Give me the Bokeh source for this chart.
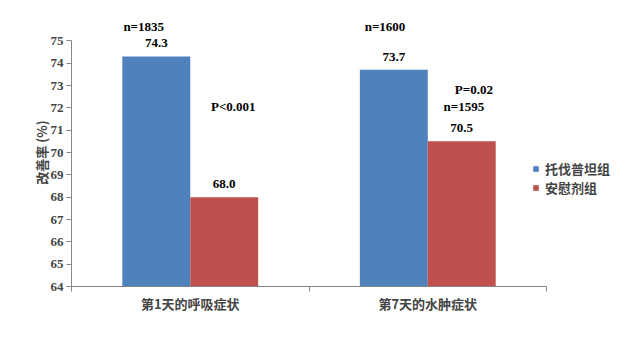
from bokeh.plotting import figure
from bokeh.models import (Range1d, FixedTicker, LinearAxis, ColumnDataSource, LabelSet,
                          Label, Legend, LegendItem)
from bokeh.embed import file_html
from bokeh.resources import INLINE

# ---- data ----
categories = ["第1天的呼吸症状", "第7天的水肿症状"]
series_names = ["托伐普坦组", "安慰剂组"]
tolvaptan = [74.3, 73.7]
placebo = [68.0, 70.5]
y_ticks = [64, 65, 66, 67, 68, 69, 70, 71, 72, 73, 74, 75]
n_tolvaptan = ["n=1835", "n=1600"]
n_placebo = ["", "n=1595"]
p_values = ["P<0.001", "P=0.02"]
y_label = "改善率 (%)"

BLUE = "#4F81BD"
RED = "#C0504D"
AXIS = "#868686"
SERIF = "Liberation Serif"
CJK = "Noto Sans CJK SC"

n_cat = len(categories)
bar_w = 0.286
centers = [i + 0.5 for i in range(n_cat)]
xb = [c - bar_w / 2 for c in centers]
xr = [c + bar_w / 2 for c in centers]

# frame extends beyond the axes (axes are bounded) so that texts and legend are not clipped
p = figure(width=623, height=356, output_backend="svg", toolbar_location=None,
           x_range=Range1d(0, n_cat * 1.162), y_range=Range1d(y_ticks[0], y_ticks[-1] + 1.0),
           x_axis_location=None, y_axis_location=None,
           min_border_left=71, min_border_right=0, min_border_top=18, min_border_bottom=70)
p.outline_line_color = None
p.xgrid.visible = False
p.ygrid.visible = False
p.background_fill_color = "white"

src_b = ColumnDataSource(dict(x=xb, top=tolvaptan, lab=[f"{v:.1f}" for v in tolvaptan]))
src_r = ColumnDataSource(dict(x=xr, top=placebo, lab=[f"{v:.1f}" for v in placebo]))
rb = p.vbar(x="x", top="top", bottom=y_ticks[0], width=bar_w, source=src_b,
            fill_color=BLUE, line_color=None)
rr = p.vbar(x="x", top="top", bottom=y_ticks[0], width=bar_w, source=src_r,
            fill_color=RED, line_color=None)

for src in (src_b, src_r):
    p.add_layout(LabelSet(x="x", y="top", text="lab", source=src, y_offset=13,
                          text_align="center", text_baseline="middle",
                          text_font=SERIF, text_font_style="bold", text_font_size="13px",
                          text_color="black"))

# extra annotations (positions relative to category centres)
ann = [
    (n_tolvaptan[0], centers[0] - 0.196, 75.64),
    (n_tolvaptan[1], centers[1] - 0.180, 75.63),
    (n_placebo[1], centers[1] + 0.152, 72.05),
    (p_values[0], centers[0] + 0.181, 72.06),
    (p_values[1], centers[1] + 0.194, 72.80),
]
for t, x, y in ann:
    p.add_layout(Label(x=x, y=y, text=t, text_align="center", text_baseline="middle",
                       text_font=SERIF, text_font_style="bold", text_font_size="13px",
                       text_color="black"))

# y axis
yax = LinearAxis(ticker=FixedTicker(ticks=y_ticks, minor_ticks=[]),
                 bounds=(y_ticks[0], y_ticks[-1]),
                 axis_label=y_label, axis_label_text_font=CJK,
                 axis_label_text_font_style="bold", axis_label_text_font_size="13px",
                 axis_label_standoff=-3,
                 major_label_text_font=SERIF, major_label_text_font_style="bold",
                 major_label_text_font_size="13px", major_label_standoff=3,
                 axis_line_color=AXIS, major_tick_line_color=AXIS,
                 major_tick_out=5, major_tick_in=0)
p.add_layout(yax, "left")

# x axis: labels at category centres, ticks at category boundaries
xax = LinearAxis(ticker=FixedTicker(ticks=centers, minor_ticks=[float(i) for i in range(n_cat + 1)]),
                 bounds=(0, n_cat),
                 major_label_overrides={c: cat for c, cat in zip(centers, categories)},
                 major_label_text_font=CJK, major_label_text_font_style="bold",
                 major_label_text_font_size="13px", major_label_standoff=1,
                 axis_line_color=AXIS, major_tick_line_color=None,
                 minor_tick_line_color=AXIS, minor_tick_out=5, minor_tick_in=0)
p.add_layout(xax, "below")

legend = Legend(items=[LegendItem(label=series_names[0], renderers=[rb]),
                       LegendItem(label=series_names[1], renderers=[rr])],
                location=(461, 89), glyph_width=7, glyph_height=7,
                label_height=15, spacing=0, padding=0, margin=0, label_standoff=6,
                label_text_font=CJK, label_text_font_style="bold", label_text_font_size="13px",
                border_line_color=None, background_fill_alpha=0)
p.add_layout(legend, "center")

open("out.html", "w").write(file_html(p, INLINE))
